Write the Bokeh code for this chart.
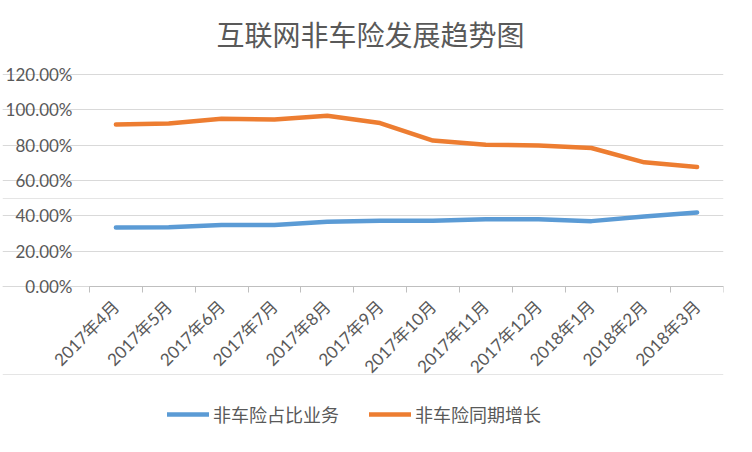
from bokeh.plotting import figure
from bokeh.models import FixedTicker, Range1d, Legend, LegendItem, ColumnDataSource, Grid
from bokeh.core.properties import value
from bokeh.embed import file_html
from bokeh.resources import INLINE
import math

categories = ["2017年4月", "2017年5月", "2017年6月", "2017年7月", "2017年8月", "2017年9月",
              "2017年10月", "2017年11月", "2017年12月", "2018年1月", "2018年2月", "2018年3月"]
share = [0.334, 0.336, 0.348, 0.348, 0.366, 0.372, 0.372, 0.380, 0.380, 0.370, 0.396, 0.419]
growth = [0.917, 0.922, 0.950, 0.945, 0.967, 0.925, 0.826, 0.803, 0.798, 0.784, 0.703, 0.676]
series_names = ["非车险占比业务", "非车险同期增长"]
y_ticks = [0.0, 0.2, 0.4, 0.6, 0.8, 1.0, 1.2]
y_tick_labels = ["0.00%", "20.00%", "40.00%", "60.00%", "80.00%", "100.00%", "120.00%"]
title_text = "互联网非车险发展趋势图"

n = len(categories)
xs = [i + 0.5 for i in range(n)]
src = ColumnDataSource(dict(x=xs, share=share, growth=growth))

# layout geometry (pixels)
PLOT_W, PLOT_H = 634, 212       # the 12-category x 0..120% band
PAD_L, PAD_T, PAD_B = 87, 10, 150
FRAME_W = PLOT_W + PAD_L
FRAME_H = PLOT_H + PAD_T + PAD_B
y_top = y_ticks[-1]
ux = n / PLOT_W
uy = y_top / PLOT_H

p = figure(frame_width=FRAME_W, frame_height=FRAME_H, output_backend="svg", toolbar_location=None,
           x_range=Range1d(-PAD_L * ux, n), y_range=Range1d(-PAD_B * uy, y_top + PAD_T * uy),
           y_axis_location=None,
           min_border_left=2, min_border_right=13, min_border_top=64, min_border_bottom=0)
p.outline_line_color = None
p.background_fill_color = "white"
p.border_fill_color = "white"

p.title.text = title_text
p.title.align = "left"
p.title.offset = 127 + PAD_L
p.title.standoff = 21
p.title.text_font = "Noto Sans CJK SC"
p.title.text_font_size = "28px"
p.title.text_font_style = "normal"
p.title.text_color = "#595959"

GRAY = "#595959"
# x axis, drawn at y = 0
xa = p.xaxis[0]
xa.fixed_location = 0
xa.bounds = (0, n)
xa.ticker = FixedTicker(ticks=xs, minor_ticks=list(range(n + 1)))
xa.major_label_overrides = {x: c for x, c in zip(xs, categories)}
xa.major_label_orientation = math.pi / 4
xa.major_tick_out = 0
xa.major_tick_in = 0
xa.minor_tick_out = 6
xa.minor_tick_in = 0
xa.minor_tick_line_color = "#BFBFBF"
xa.axis_line_color = "#BFBFBF"
xa.major_label_text_font = "Lato, Noto Sans CJK SC"
xa.major_label_text_font_size = "17px"
xa.major_label_text_color = GRAY
xa.major_label_standoff = 11
p.xgrid.grid_line_color = None

# horizontal gridlines
p.add_layout(Grid(dimension=1, ticker=FixedTicker(ticks=y_ticks), bounds=(0, n),
                  grid_line_color="#D9D9D9", grid_line_width=1))

# y tick labels
ylab = ColumnDataSource(dict(x=[0] * len(y_ticks), y=y_ticks, t=y_tick_labels))
p.text("x", "y", text="t", source=ylab, x_offset=-17, text_align="right", text_baseline="middle",
       text_font=value("Lato"), text_font_size="17px", text_color=GRAY)

r1 = p.line("x", "share", source=src, line_color="#5B9BD5", line_width=4.5, line_join="round", line_cap="round")
r2 = p.line("x", "growth", source=src, line_color="#ED7D31", line_width=4.5, line_join="round", line_cap="round")

legend = Legend(items=[LegendItem(label=series_names[0], renderers=[r1]),
                       LegendItem(label=series_names[1], renderers=[r2])],
                orientation="horizontal", location=(78 + PAD_L, 9),
                border_line_color=None, background_fill_alpha=0,
                label_text_font="Noto Sans CJK SC", label_text_font_size="18px",
                label_text_color=GRAY, glyph_width=42, label_standoff=4, spacing=30,
                margin=0, padding=4)
p.add_layout(legend, "center")

open("out.html", "w").write(file_html(p, INLINE))
